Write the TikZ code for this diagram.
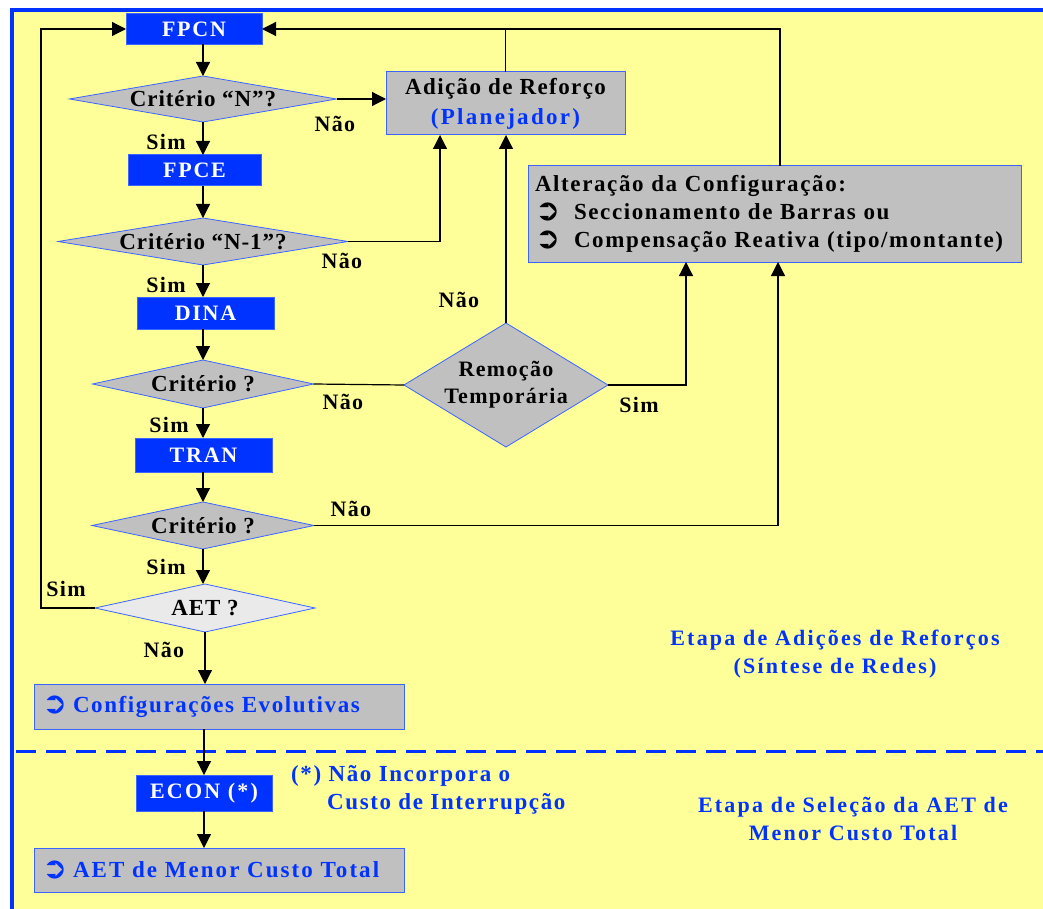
\documentclass[tikz,border=0pt]{standalone}
\usepackage{fontspec}
\setmainfont{Liberation Serif}
\newfontfamily\sym{DejaVu Sans}
\usetikzlibrary{arrows.meta,shapes.geometric}
\definecolor{bg}{RGB}{255,255,153}
\definecolor{myblue}{RGB}{0,51,255}
\definecolor{edgeblue}{RGB}{60,100,255}
\definecolor{boxgray}{RGB}{192,192,192}
\definecolor{aetgray}{RGB}{234,234,234}
\newcommand\fnt[2]{\fontsize{#1}{28}\selectfont\bfseries\addfontfeature{LetterSpace=#2}}
\newcommand\bul[1]{\makebox[#1][l]{\smash{\raisebox{-1pt}{\sym\fontsize{30}{20}\selectfont ➲}}}}
\tikzset{
  bluebox/.style={draw=edgeblue, fill=myblue, text=white, inner sep=0pt, outer sep=0pt, line width=1pt, font=\fnt{22}{8}},
  gbox/.style={draw=edgeblue, fill=boxgray, inner sep=0pt, outer sep=0pt, line width=1pt},
  dia/.style={diamond, draw=edgeblue, fill=boxgray, inner sep=0pt, outer sep=0pt, line width=0.8pt},
  diatext/.style={font=\fnt{23}{4}, align=center},
  arr/.style={-{Triangle[length=14pt,width=14pt]}, line width=1.2pt},
  ln/.style={line width=1.2pt},
  lab/.style={font=\fnt{22}{6}},
  etapa/.style={font=\fnt{22}{10}, text=myblue, align=center}
}
\begin{document}
\begin{tikzpicture}[x=1pt,y=-1pt]
\useasboundingbox (0,0) rectangle (1043,909);
\fill[white] (0,0) rectangle (1043,909);
\fill[bg] (12,10) rectangle (1043,909);
\draw[myblue, line width=4pt] (10,10) -- (1043,10);
\draw[myblue, line width=4pt] (12,8) -- (12,909);
\draw[myblue, line width=3pt, dash pattern=on 20pt off 10pt] (16,751) -- (1043,751);

% main column
\node[bluebox, minimum width=136, minimum height=31] (fpcn) at (194,29) {FPCN};
\node[dia, minimum width=267, minimum height=46, label={[diatext]center:Critério “N”?}] (d1) at (203,99) {};
\node[bluebox, minimum width=133, minimum height=31] (fpce) at (194.5,170.5) {FPCE};
\node[dia, minimum width=290, minimum height=47, label={[diatext]center:Critério “N-1”?}] (d2) at (203,241.5) {};
\node[bluebox, minimum width=137, minimum height=32] (dina) at (205.5,313) {DINA};
\node[dia, minimum width=221, minimum height=48, label={[diatext]center:Critério ?}] (d3) at (203,384) {};
\node[bluebox, minimum width=137, minimum height=34] (tran) at (203.5,455) {TRAN};
\node[dia, minimum width=222, minimum height=47, label={[diatext]center:Critério ?}] (d4) at (203,525.5) {};
\node[dia, fill=aetgray, minimum width=220, minimum height=48, label={[diatext]center:AET ?}] (aet) at (205,608) {};
\node[gbox, minimum width=370, minimum height=45, text width=354, inner xsep=8pt, align=left, text=myblue, font=\fnt{23}{7}] (config) at (219,706.5) {\bul{31pt}Configurações Evolutivas};
\node[bluebox, minimum width=136, minimum height=36, font=\fnt{22}{10}] (econ) at (204,793) {ECON (*)};
\node[gbox, minimum width=370, minimum height=44, text width=354, inner xsep=8pt, align=left, text=myblue, font=\fnt{23}{9}] (final) at (219,870) {\bul{31pt}AET de Menor Custo Total};

% right side
\node[gbox, minimum width=239, minimum height=63, align=center, font=\fnt{23}{6}] (adicao) at (505.5,103.5) {Adição de Reforço\\[2pt]{\color{myblue}\addfontfeature{LetterSpace=10}(Planejador)}};
\node[gbox, minimum width=493, minimum height=96, text width=479, inner xsep=7pt, align=left, font=\fnt{23}{7}] (alt) at (774.5,214) {Alteração da Configuração:\\\bul{39pt}Seccionamento de Barras ou\\\bul{39pt}Compensação Reativa (tipo/montante)};
\node[dia, minimum width=204, minimum height=124, label={[diatext, font=\fnt{22}{6}]center:Remoção\\[-1pt]Temporária}] (rem) at (506,385) {};

% vertical flow
\draw[arr] (fpcn.south -| d1.north) -- (d1.north);
\draw[arr] (d1.south) -- (d1.south |- fpce.north);
\draw[arr] (fpce.south -| d2.north) -- (d2.north);
\draw[arr] (d2.south) -- (d2.south |- dina.north);
\draw[arr] (dina.south -| d3.north) -- (d3.north);
\draw[arr] (d3.south) -- (d3.south |- tran.north);
\draw[arr] (tran.south -| d4.north) -- (d4.north);
\draw[arr] (d4.south) -- (d4.south |- aet.north);
\draw[arr] (aet.south) -- (aet.south |- config.north);
\draw[arr] (econ.north |- config.south) -- (econ.north);
\draw[arr] (econ.south) -- (econ.south |- final.north);

% branches
\draw[arr] (d1.east) -- (d1.east -| adicao.west);
\draw[arr] (d2.east) -| ([xshift=-65.5pt]adicao.south);
\draw[arr] (rem.north) -- (rem.north |- adicao.south);
\draw[ln] (d3.east) -- (rem.west);
\draw[arr] (rem.east) -| ([xshift=-88.5pt]alt.south);
\draw[arr] (d4.east) -| ([xshift=3.5pt]alt.south);
\draw[arr] ([xshift=5.5pt]alt.north) |- (fpcn.east);
\draw[ln] (adicao.north) -- (adicao.north |- fpcn.east);
\draw[arr] (aet.west) -- ++(-54,0) |- (fpcn.west);

% labels
\node[lab] (l1) at (335,124) {Não};
\node[lab] (l2) at (166,142) {Sim};
\node[lab] (l3) at (342,261) {Não};
\node[lab] (l4) at (166,285) {Sim};
\node[lab] (l5) at (459,300) {Não};
\node[lab] (l6) at (343,402) {Não};
\node[lab] (l7) at (169,425) {Sim};
\node[lab] (l8) at (639,405) {Sim};
\node[lab] (l9) at (351,509) {Não};
\node[lab] (l10) at (166,567) {Sim};
\node[lab] (l11) at (66,589) {Sim};
\node[lab] (l12) at (164,650) {Não};

% notes
\node[etapa] (e1) at (835,654) {Etapa de Adições de Reforços\\(Síntese de Redes)};
\node[etapa] (e2) at (853,818.5) {Etapa de Seleção da AET de\\Menor Custo Total};
\node[anchor=north west, align=left, text=myblue, font=\fnt{23}{7}, inner sep=0pt] (note) at (291,765) {(*) Não Incorpora o\\\hspace*{36pt}Custo de Interrupção};
\end{tikzpicture}
\end{document}
